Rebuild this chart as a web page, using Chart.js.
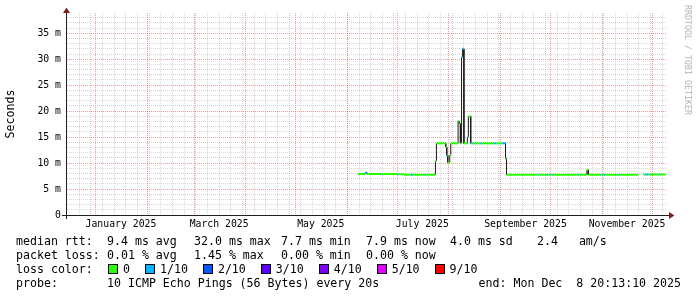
<!DOCTYPE html>
<html>
<head>
<meta charset="utf-8">
<script src="https://cdn.jsdelivr.net/npm/chart.js@4.4.1/dist/chart.umd.min.js"></script>
<style>
html,body{margin:0;padding:0;background:#fff;}
#wrap{position:relative;width:697px;height:297px;overflow:hidden;font-family:'DejaVu Sans Mono',monospace;background:#fff;}
#c{position:absolute;left:0;top:0;}
.t{position:absolute;font-size:11.6px;line-height:14px;white-space:pre;color:#000;}
.row{position:absolute;left:108px;height:14px;display:flex;align-items:center;font-size:11.6px;white-space:pre;color:#000;}
.box{display:inline-block;width:8px;height:8px;border:1px solid #000;margin-right:5px;}
.lbl{margin-right:15px;}
#wm{position:absolute;left:692px;top:5px;transform:rotate(90deg);transform-origin:0 0;font-size:8.3px;line-height:8.3px;color:#b4b4b4;white-space:pre;}
</style>
</head>
<body>
<div id="wrap">
<canvas id="c" width="697" height="297"></canvas>
<div id="wm">RRDTOOL / TOBI OETIKER</div>
<div id="footer"></div>
</div>
<script>
// ---- data (days counted from 2025-01-01 00:00) ----
const runStartDay = [157.4,161.6,162.8,170.6,171.5,181.4,182.3,185.0,189.2,190.4,197.6,198.4,
  203.9,204.5,210.1,210.7,211.3,212.5,213.1,217.5,218.3,218.9,219.6,220.2,221.0,223.1,223.7,225.1,
  225.6,226.8,230.4,231.7,239.1,240.7,243.7,246.0,246.6,265.7,266.4,270.9,271.8,273.6,274.5,289.5,
  290.4,294.9,295.7,302.8,303.7,305.2,305.8,314.2,314.8,325.8,328.8,329.9,332.0,338.2,338.8];
const medianRtt = [7.9,8.15,7.9,7.9,7.9,7.85,7.85,7.75,7.75,7.75,7.75,7.75,
  10.4,13.8,13.1,11.5,10.1,11.5,13.8,18.1,17.6,13.8,30.4,32.0,13.8,15.0,19.0,13.8,
  13.8,13.8,13.8,13.8,13.8,13.8,13.8,10.9,7.75,7.75,7.75,7.75,7.75,7.75,7.75,7.75,
  7.75,8.7,7.75,7.75,7.75,7.75,7.75,7.75,7.75,null,7.8,7.8,7.8,7.8,7.8];
const lossTenths = [0,1,0,1,0,1,0,0,1,0,1,0,
  0,0,0,1,0,0,0,0,0,0,1,1,0,1,0,0,
  1,0,1,0,1,0,1,0,0,1,0,1,0,1,0,1,
  0,0,0,1,0,1,0,1,0,0,0,1,0,1,0];
const endDay = 342.3;

const xMinDay = -17.4, xMaxDay = 343.0;
const yMax = 38.9;
const yTickValues = [0,5,10,15,20,25,30,35];
const yTickLabels = ['0','5 m','10 m','15 m','20 m','25 m','30 m','35 m'];
const monthLabelNames = ['January 2025','March 2025','May 2025','July 2025','September 2025','November 2025'];
const monthLabelIndex = [0,2,4,6,8,10];
const lossLegend = ['0','1/10','2/10','3/10','4/10','5/10','9/10'];
const lossLegendTenths = [0,1,2,3,4,5,9];
const lossColors = ['#26ff00','#00b8ff','#0059ff','#5e00ff','#7e00ff','#dd00ff','#ff0000'];

const statsRtt = [['median rtt:',16],['9.4 ms avg',107],['32.0 ms max',194],['7.7 ms min',281],['7.9 ms now',366],['4.0 ms sd',450],['2.4   am/s',537]];
const statsLoss = [['packet loss:',16],['0.01 % avg',107],['1.45 % max',194],['0.00 % min',281],['0.00 % now',366]];
const probeText = '10 ICMP Echo Pings (56 Bytes) every 20s';
const endText = 'end: Mon Dec  8 20:13:10 2025';

// ---- helpers ----
const DAYMS = 86400000, BASE = Date.UTC(2025,0,1);
const dayOf = (y,m,d) => (Date.UTC(y,m,d) - BASE) / DAYMS;
const colorForLoss = t => lossColors[Math.max(0, lossLegendTenths.indexOf(t))];

// x ticks: weekly (Sundays), monthly, label positions (month start + 15 days)
const xTicks = [];
for (let d = dayOf(2025,0,5) - 7*4; d < xMaxDay; d += 7) if (d > xMinDay + 0.5) xTicks.push({value:d, kind:'week', text:''});
for (let m = -1; m < 12; m++) { const d = dayOf(2025,m,1); if (d > xMinDay && d < xMaxDay) xTicks.push({value:d, kind:'month', text:''}); }
monthLabelIndex.forEach((m,i) => xTicks.push({value: dayOf(2025,m,1) + 15, kind:'label', text: monthLabelNames[i]}));
xTicks.sort((a,b) => a.value - b.value);

const yTicks = [];
for (let v = 0; v < yMax; v++) yTicks.push(v);

// step runs -> point list
const pts = [];
for (let i = 0; i < runStartDay.length; i++) {
  const x1 = i + 1 < runStartDay.length ? runStartDay[i+1] : endDay;
  pts.push({x: runStartDay[i], y: medianRtt[i], loss: lossTenths[i]});
  pts.push({x: x1, y: medianRtt[i], loss: lossTenths[i]});
}

const MINOR = 'rgba(143,143,143,0.36)';
const MAJOR = 'rgba(222,79,79,0.55)';
const FONT = "'DejaVu Sans Mono', monospace";

const axesPlugin = {
  id: 'rrdAxes',
  afterDatasetsDraw(chart) {
    const {ctx, chartArea: a} = chart;
    const ax = a.left - 0.5, ay = a.bottom + 0.5;
    ctx.save();
    ctx.strokeStyle = '#1f1f1f'; ctx.lineWidth = 1;
    ctx.beginPath();
    ctx.moveTo(a.left - 5, ay); ctx.lineTo(a.right + 2, ay);
    ctx.moveTo(ax, a.bottom + 4); ctx.lineTo(ax, a.top - 1);
    ctx.stroke();
    ctx.fillStyle = '#7f1f1f';
    ctx.beginPath(); ctx.moveTo(a.right + 2, ay - 3.5); ctx.lineTo(a.right + 7.5, ay); ctx.lineTo(a.right + 2, ay + 3.5); ctx.closePath(); ctx.fill();
    ctx.beginPath(); ctx.moveTo(ax - 3.5, a.top); ctx.lineTo(ax, a.top - 5.5); ctx.lineTo(ax + 3.5, a.top); ctx.closePath(); ctx.fill();
    ctx.restore();
  }
};

new Chart(document.getElementById('c'), {
  type: 'line',
  data: {
    datasets: [
      {
        label: 'median rtt',
        data: pts,
        borderWidth: 2,
        borderColor: '#26ff00',
        pointRadius: 0,
        spanGaps: false,
        segment: {
          borderColor: c => (c.p0.parsed.x === c.p1.parsed.x) ? 'rgba(0,0,0,0)' : colorForLoss(pts[c.p0DataIndex].loss)
        }
      },
      {
        label: 'steps',
        data: pts,
        borderWidth: 1,
        borderColor: '#1c1c1c',
        pointRadius: 0,
        spanGaps: false,
        segment: {
          borderColor: c => (c.p0.parsed.x === c.p1.parsed.x) ? '#1c1c1c' : 'rgba(0,0,0,0)'
        }
      }
    ]
  },
  options: {
    responsive: false,
    maintainAspectRatio: false,
    animation: false,
    devicePixelRatio: 1,
    layout: { padding: { left: 0, right: 30, top: 13, bottom: 62 } },
    plugins: { legend: { display: false }, tooltip: { enabled: false } },
    scales: {
      x: {
        type: 'linear', min: xMinDay, max: xMaxDay,
        afterBuildTicks: s => { s.ticks = xTicks.map(t => ({value: t.value, kind: t.kind, text: t.text})); },
        afterFit: s => { s.height = 20; },
        ticks: {
          autoSkip: false, maxRotation: 0, minRotation: 0, padding: 4, color: '#000',
          font: { family: FONT, size: 9.8 },
          callback: (v, i, ticks) => ticks[i].text || ''
        },
        grid: {
          drawTicks: false,
          color: c => c.tick && c.tick.kind === 'month' ? MAJOR : (c.tick && c.tick.kind === 'week' ? MINOR : 'rgba(0,0,0,0)')
        },
        border: { display: false, dash: [1,1] }
      },
      y: {
        type: 'linear', min: 0, max: yMax,
        afterBuildTicks: s => { s.ticks = yTicks.map(v => ({value: v})); },
        afterFit: s => { s.width = 67; },
        ticks: {
          autoSkip: false, padding: 6, color: '#000',
          font: { family: FONT, size: 9.8 },
          callback: v => { const k = yTickValues.indexOf(v); return k >= 0 ? yTickLabels[k] : ''; }
        },
        grid: {
          drawTicks: false,
          color: c => c.tick && yTickValues.includes(c.tick.value) ? MAJOR : MINOR
        },
        border: { display: false, dash: [1,1] },
        title: { display: true, text: 'Seconds', color: '#000', font: { family: FONT, size: 11.6 }, padding: { top: 4, bottom: 0 } }
      }
    }
  },
  plugins: [axesPlugin]
});

// ---- footer legend (real text) ----
const footer = document.getElementById('footer');
function addText(txt, left, top, right) {
  const d = document.createElement('div');
  d.className = 't'; d.textContent = txt; d.style.top = top + 'px';
  if (right !== undefined) d.style.right = right + 'px'; else d.style.left = left + 'px';
  footer.appendChild(d);
}
statsRtt.forEach(([t,x]) => addText(t, x, 234));
statsLoss.forEach(([t,x]) => addText(t, x, 248));
addText('loss color:', 16, 262);
const row = document.createElement('div');
row.className = 'row'; row.style.top = '262px';
lossLegend.forEach((lab, i) => {
  const b = document.createElement('span'); b.className = 'box'; b.style.background = lossColors[i]; row.appendChild(b);
  const l = document.createElement('span'); l.className = 'lbl'; l.textContent = lab; row.appendChild(l);
});
footer.appendChild(row);
addText('probe:', 16, 276);
addText(probeText, 107, 276);
addText(endText, 0, 276, 16);
</script>
</body>
</html>
